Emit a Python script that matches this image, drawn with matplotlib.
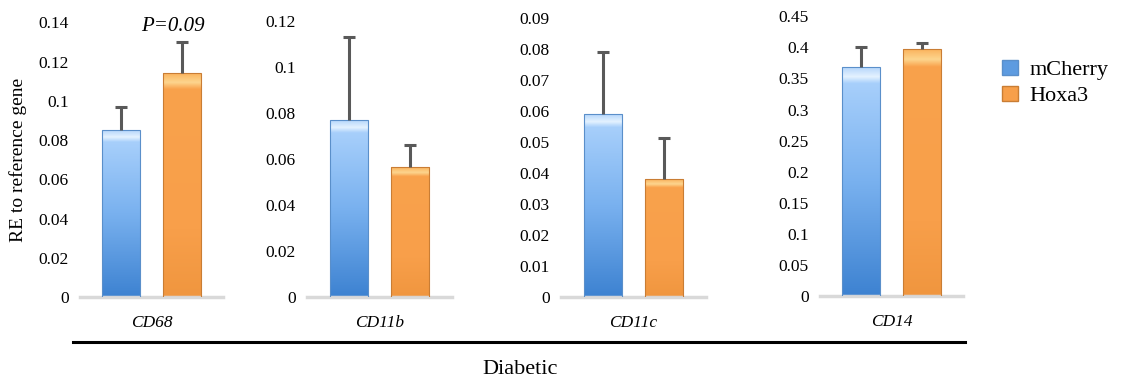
import numpy as np
import matplotlib
matplotlib.use("Agg")
import matplotlib.pyplot as plt
from matplotlib.colors import LinearSegmentedColormap
from matplotlib.patches import Patch
from matplotlib.lines import Line2D

plt.rcParams["font.family"] = ["Liberation Serif", "DejaVu Serif"]

genes = ["CD68", "CD11b", "CD11c", "CD14"]
groups = ["mCherry", "Hoxa3"]
mcherry_mean = [0.085, 0.077, 0.059, 0.368]
mcherry_err = [0.012, 0.036, 0.020, 0.032]
hoxa3_mean = [0.114, 0.0565, 0.038, 0.397]
hoxa3_err = [0.016, 0.0095, 0.0135, 0.010]
y_max = [0.14, 0.12, 0.09, 0.45]
y_step = [0.02, 0.02, 0.01, 0.05]

# axes boxes in pixels: left, right, top, bottom
W, H = 1122, 381
boxes = [(80, 223, 22, 297), (307, 452, 21, 297), (561, 706, 18, 297), (820, 963, 16, 296)]

blue_cmap = LinearSegmentedColormap.from_list(
    "b", [(0, "#3d82d1"), (0.5, "#79b1ef"), (0.93, "#a7cffb"), (0.96, "#e4f2ff"), (1, "#b6d7fb")])
orange_cmap = LinearSegmentedColormap.from_list(
    "o", [(0, "#f0963f"), (0.3, "#f89f4a"), (0.93, "#f9a24c"), (0.96, "#fdd58e"), (1, "#fbb45e")])
grad = np.linspace(0, 1, 256).reshape(-1, 1)


def gradient_bar(ax, x, width, height, cmap, edge):
    ax.imshow(grad, extent=[x - width / 2, x + width / 2, 0, height], origin="lower",
              aspect="auto", cmap=cmap, vmin=0, vmax=1, zorder=2)
    ax.bar(x, height, width, facecolor="none", edgecolor=edge, linewidth=0.8, zorder=3)


def upper_error(ax, xs, means, errs):
    tops = [m + e for m, e in zip(means, errs)]
    ax.vlines(xs, means, tops, color="#595959", linewidth=2.2, zorder=4)
    ax.hlines(tops, [x - 0.1 for x in xs], [x + 0.1 for x in xs], color="#595959",
              linewidth=2.2, zorder=4)


fig = plt.figure(figsize=(W / 100, H / 100), dpi=100)
width = 0.62
for i, gene in enumerate(genes):
    l, r, t, b = boxes[i]
    ax = fig.add_axes([l / W, 1 - b / H, (r - l) / W, (b - t) / H])
    gradient_bar(ax, 0, width, mcherry_mean[i], blue_cmap, "#5a8fca")
    gradient_bar(ax, 1, width, hoxa3_mean[i], orange_cmap, "#c97d34")
    upper_error(ax, [0, 1], [mcherry_mean[i], hoxa3_mean[i]], [mcherry_err[i], hoxa3_err[i]])
    ax.set_xlim(-0.68, 1.68)
    ax.set_ylim(0, y_max[i] * 1.001)
    ticks = np.round(np.arange(0, y_max[i] + y_step[i] / 2, y_step[i]), 3)
    ax.set_yticks(ticks)
    ax.set_yticklabels([f"{v:g}" for v in ticks], fontsize=12.5)
    ax.tick_params(axis="y", length=0, pad=8)
    ax.set_xticks([0.5])
    ax.set_xticklabels([gene], fontsize=12.5, style="italic")
    ax.tick_params(axis="x", length=0, pad=13)
    for s in ["left", "right", "top"]:
        ax.spines[s].set_visible(False)
    ax.spines["bottom"].set_color("#d9d9d9")
    ax.spines["bottom"].set_linewidth(2.5)
    if i == 0:
        ax.set_ylabel("RE to reference gene", fontsize=14, labelpad=8)
        ax.text(0.85, hoxa3_mean[i] + hoxa3_err[i] + 0.003, "P=0.09", ha="center", va="bottom",
                fontsize=15, style="italic")

fig.add_artist(Line2D([73 / W, 965 / W], [1 - 342 / H, 1 - 342 / H], color="black", linewidth=2.2))
fig.text(520 / W, 1 - 369 / H, "Diabetic", ha="center", va="center", fontsize=16)

handles = [Patch(facecolor="#5d9be0", edgecolor="#5a8fca"),
           Patch(facecolor="#f79f4a", edgecolor="#c97d34")]
fig.legend(handles, groups, loc="center left", bbox_to_anchor=(998 / W, 1 - 83 / H),
           frameon=False, fontsize=16, handlelength=0.7, handleheight=0.7,
           handletextpad=0.5, labelspacing=0.25, borderaxespad=0, borderpad=0.2)

fig.savefig("out.png", dpi=100)
